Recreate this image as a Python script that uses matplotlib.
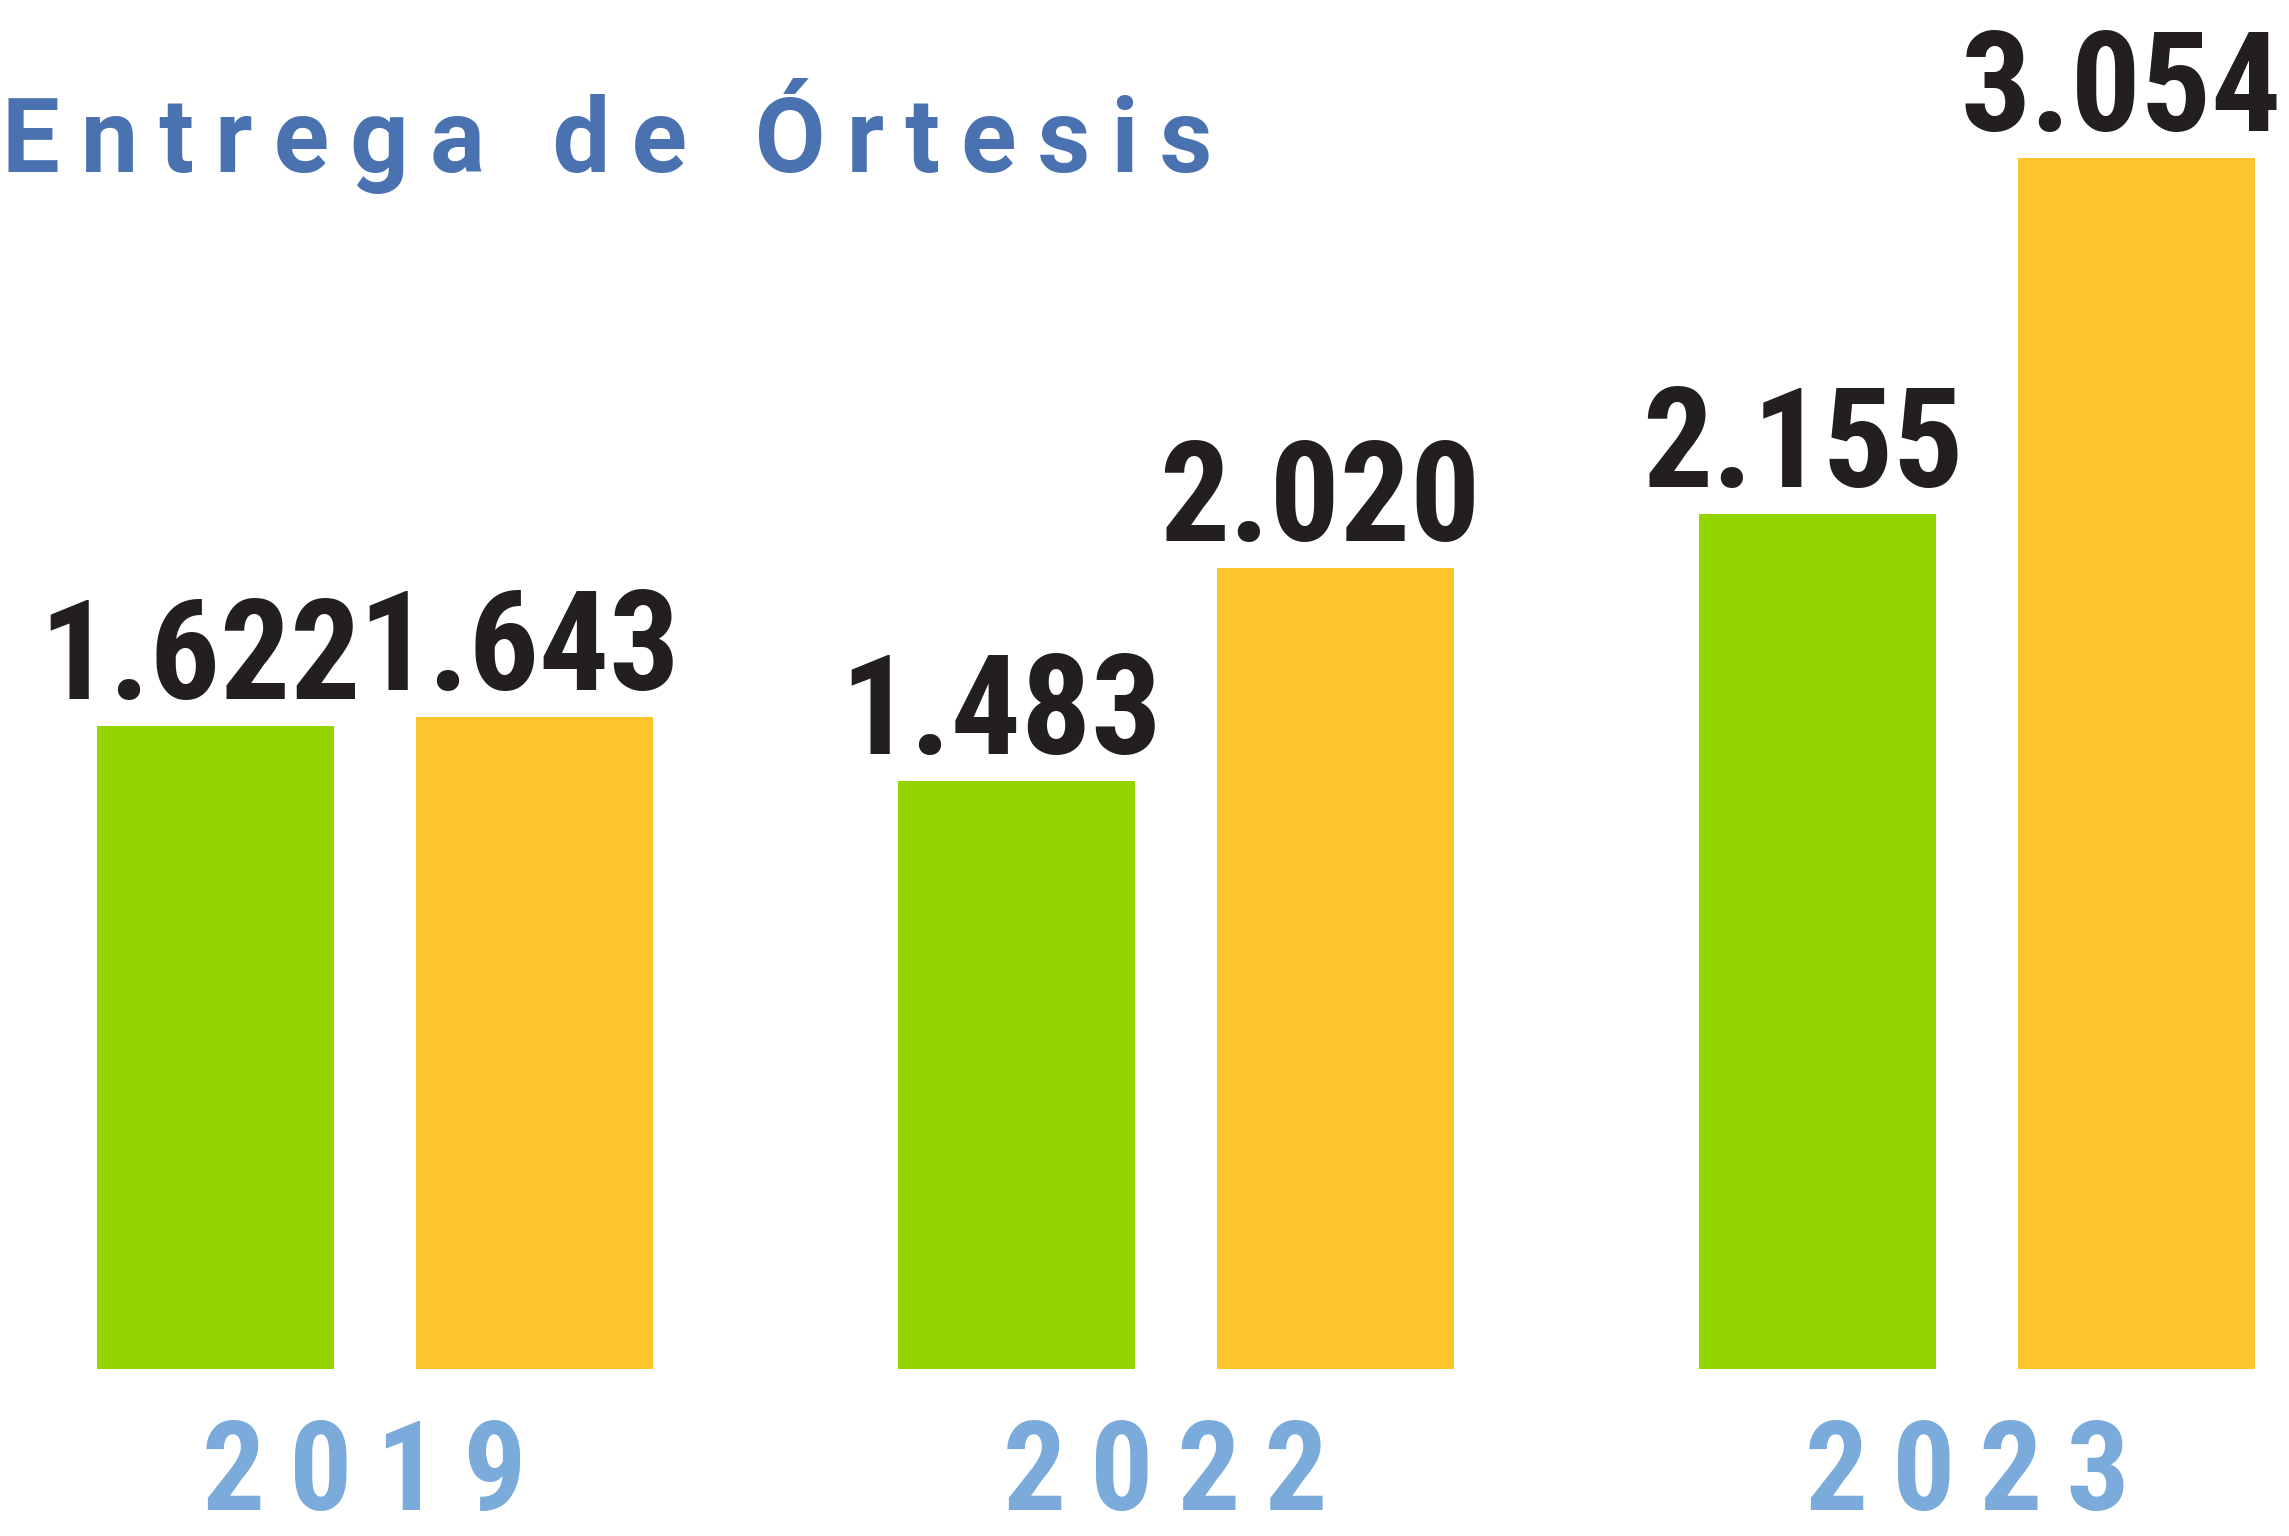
import matplotlib
matplotlib.use("Agg")
import matplotlib.pyplot as plt
from matplotlib import font_manager as fm
import numpy as np

# ---- data ----
years = ["2019", "2022", "2023"]
series_a = [1622, 1483, 2155]   # green bars
series_b = [1643, 2020, 3054]   # yellow bars
labels_a = ["1.622", "1.483", "2.155"]
labels_b = ["1.643", "2.020", "3.054"]
title = "Entrega de Órtesis"

GREEN = "#94d500"
YELLOW = "#fdc52b"
TITLE_BLUE = "#4a72b0"
YEAR_BLUE = "#7aabdb"
DARK = "#231f20"

names = {f.name for f in fm.fontManager.ttflist}
cands = ["Roboto Condensed", "Liberation Sans Narrow", "DejaVu Sans Condensed", "Liberation Sans"]
FONT = next((c for c in cands if c in names), "DejaVu Sans")
TFONT = "Roboto" if "Roboto" in names else FONT
THIN = "\u2009"

W, H = 2289, 1536
fig = plt.figure(figsize=(W / 100, H / 100), dpi=100)
ax = fig.add_axes([0, 0, 1, 1])
ax.set_axis_off()

# pixel layout: group 0 centre at 374.5 px, spacing 801 px
sp = 801.25
ax.set_xlim(-374.5 / sp, (W - 374.5) / sp)
pxu = 0.3966
base = 167
ax.set_ylim(-base / pxu, (H - base) / pxu)

x = np.arange(len(years))
off = 159.5 / sp
bw = 237 / sp
ax.bar(x - off, series_a, width=bw, color=GREEN)
ax.bar(x + off, series_b, width=bw, color=YELLOW)

for xi, va_, vb_, la, lb in zip(x, series_a, series_b, labels_a, labels_b):
    for xx, v, lab in ((xi - off, va_, la), (xi + off, vb_, lb)):
        ax.annotate(lab, xy=(xx, v), xytext=(-15, 27), textcoords="offset pixels",
                    ha="center", va="baseline", fontsize=100,
                    fontweight="bold", family=[FONT, "DejaVu Sans"], color=DARK)

for xi, y in zip(x, years):
    ax.annotate(THIN.join(y), xy=(xi, 1 / H), xycoords=("data", "axes fraction"),
                xytext=(-10, 0), textcoords="offset pixels",
                ha="center", va="bottom", fontsize=90,
                fontweight="bold", family=[FONT, "DejaVu Sans"], color=YEAR_BLUE)

spaced = (THIN + " " + THIN).join(THIN.join(w) for w in title.split(" "))
fig.text(2 / W, 1 - 172 / H, spaced, ha="left", va="baseline",
         fontsize=74, fontweight="bold", family=[TFONT, "DejaVu Sans"], color=TITLE_BLUE)

fig.savefig("out.png", dpi=100)
